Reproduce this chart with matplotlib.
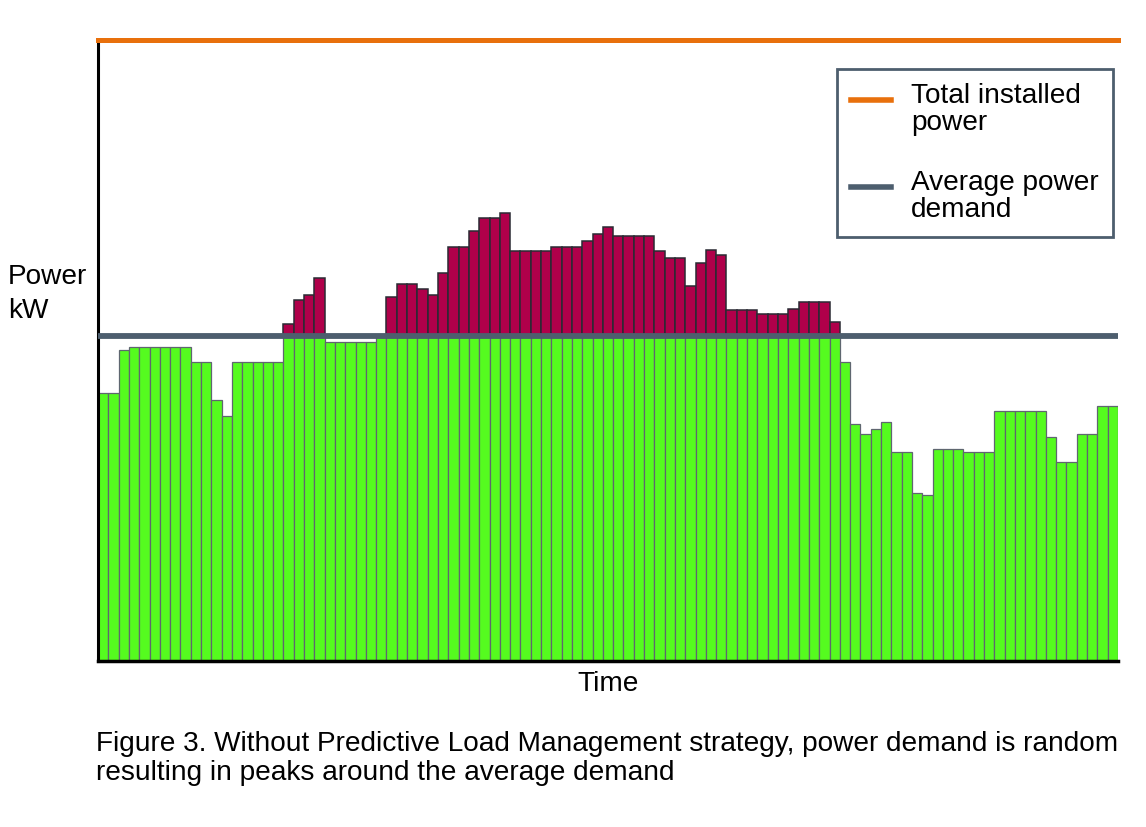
import numpy as np
import matplotlib.pyplot as plt
from matplotlib.lines import Line2D

plt.rcParams['font.family'] = ['Liberation Sans', 'DejaVu Sans']

# values (installed power = 100)
installed_power = 100
average_demand = 52.3
demand = [43.2, 43.2, 50.0, 50.5, 50.5, 50.5, 50.5, 50.5, 50.5, 48.1,
          48.1, 42.0, 39.4, 48.1, 48.1, 48.1, 48.1, 48.1, 54.2, 58.1,
          58.9, 61.7, 51.3, 51.3, 51.3, 51.3, 51.3, 52.2, 58.5, 60.6,
          60.6, 59.8, 58.9, 62.5, 66.6, 66.6, 69.2, 71.3, 71.3, 72.1,
          65.9, 65.9, 65.9, 65.9, 66.6, 66.6, 66.6, 67.5, 68.7, 69.8,
          68.4, 68.4, 68.4, 68.4, 65.9, 64.8, 64.8, 60.3, 64.0, 66.1,
          65.3, 56.4, 56.4, 56.4, 55.8, 55.8, 55.8, 56.6, 57.8, 57.8,
          57.8, 54.5, 48.1, 38.2, 36.5, 37.3, 38.4, 33.6, 33.6, 27.0,
          26.7, 34.1, 34.1, 34.1, 33.6, 33.6, 33.6, 40.3, 40.3, 40.3,
          40.3, 40.3, 36.1, 32.0, 32.0, 36.5, 36.5, 41.1, 41.1]

legend_labels = ['Total installed\npower', 'Average power\ndemand']
caption = ('Figure 3. Without Predictive Load Management strategy, power demand is random\n'
           'resulting in peaks around the average demand')

demand = np.array(demand)
x = np.arange(len(demand))
green_part = np.minimum(demand, average_demand)
red_part = demand - average_demand
over = red_part > 0

fig = plt.figure(figsize=(11.46, 8.27), dpi=100)
ax = fig.add_axes([98 / 1146, 1 - 661 / 827, 1020 / 1146, 621.5 / 827])

ax.bar(x, green_part, width=1, align='edge', color='#55fb1f',
       edgecolor='#5f6670', linewidth=0.9, zorder=2)
ax.bar(x[over], red_part[over], bottom=average_demand, width=1, align='edge',
       color='#b0004a', edgecolor='#2a2a33', linewidth=1.1, zorder=2)

orange = '#e8700c'
slate = '#4d5e6e'
ax.axhline(installed_power, color=orange, lw=3.6, clip_on=False, zorder=4)
ax.axhline(average_demand, color=slate, lw=4.2, zorder=3)

ax.set_xlim(0, len(demand))
ax.set_ylim(0, installed_power)
ax.set_xticks([])
ax.set_yticks([])
ax.spines['top'].set_visible(False)
ax.spines['right'].set_visible(False)
ax.spines['left'].set_linewidth(2.2)
ax.spines['bottom'].set_linewidth(2.5)

fs = 20.2
ax.set_xlabel('Time', fontsize=fs, labelpad=7)
# va='baseline' on multi-line text uses the last line
fig.text(8 / 1146, 1 - 317.7 / 827, 'Power\nkW', fontsize=fs, ha='left',
         va='baseline', linespacing=1.4)
fig.text(96 / 1146, 1 - 780 / 827, caption, fontsize=fs, ha='left', va='baseline',
         linespacing=1.15)

handles = [Line2D([], [], color=orange, lw=4), Line2D([], [], color=slate, lw=4)]
leg = ax.legend(handles, legend_labels, loc='upper right',
                bbox_to_anchor=(1113 / 1146, 1 - 69 / 827),
                bbox_transform=fig.transFigure, borderaxespad=0,
                fontsize=fs, handlelength=1.43, handletextpad=0.71,
                borderpad=0.5, labelspacing=1.2, fancybox=False,
                framealpha=1, edgecolor=slate)
leg.get_frame().set_linewidth(2)
for t in leg.get_texts():
    t.set_linespacing(1.05)
for line in leg.get_lines():
    line.set_ydata(np.asarray(line.get_ydata()) + 7)

fig.savefig('out.png', dpi=100)
